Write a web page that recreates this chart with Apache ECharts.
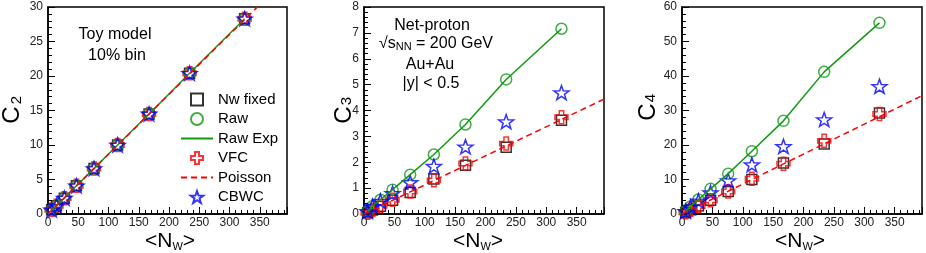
<!DOCTYPE html>
<html><head><meta charset="utf-8">
<script src="https://cdn.jsdelivr.net/npm/echarts@6/dist/echarts.min.js"></script>
<style>html,body{margin:0;padding:0;background:#fff}#c{width:926px;height:253px}</style>
</head><body><div id="c"></div>
<script>
// ---- data ----
const nw = [6, 14, 27, 47, 76, 115, 167, 234, 325];

// C2 (toy model)
const c2NwFixed = [0.6, 1.2, 2.3, 4.1, 6.6, 10.0, 14.5, 20.4, 28.3];
const c2Raw     = [0.6, 1.2, 2.3, 4.1, 6.6, 10.0, 14.5, 20.4, 28.3];
const c2RawExp  = [0.6, 1.2, 2.3, 4.1, 6.6, 10.0, 14.5, 20.4, 28.3];
const c2VFC     = [0.6, 1.2, 2.3, 4.1, 6.6, 10.0, 14.5, 20.4, 28.3];
const c2CBWC    = [0.6, 1.2, 2.3, 4.1, 6.6, 10.0, 14.5, 20.4, 28.3];
const c2Poisson = [[0, 0], [346, 30]];

// C3
const c3NwFixed = [0.05, 0.15, 0.3, 0.53, 0.83, 1.35, 1.88, 2.58, 3.62];
const c3Raw     = [0.1, 0.3, 0.55, 0.94, 1.52, 2.3, 3.46, 5.2, 7.16];
const c3RawExp  = [0.1, 0.3, 0.55, 0.94, 1.52, 2.3, 3.46, 5.2, 7.16];
const c3VFC     = [0.05, 0.15, 0.32, 0.55, 0.87, 1.3, 1.95, 2.72, 3.74];
const c3CBWC    = [0.1, 0.3, 0.5, 0.8, 1.22, 1.85, 2.6, 3.57, 4.69];
const c3Poisson = [[0, 0], [395, 4.44]];

// C4
const c4NwFixed = [0.4, 1.2, 2.3, 4.0, 6.5, 10.0, 14.8, 20.3, 29.3];
const c4Raw     = [0.8, 2.2, 4.2, 7.3, 11.7, 18.2, 27.0, 41.2, 55.4];
const c4RawExp  = [0.8, 2.2, 4.2, 7.3, 11.7, 18.2, 27.0, 41.2, 55.4];
const c4VFC     = [0.5, 1.2, 2.3, 4.0, 6.5, 10.2, 14.6, 21.2, 29.0];
const c4CBWC    = [0.8, 2.0, 3.8, 6.2, 9.7, 14.3, 19.6, 27.4, 37.0];
const c4Poisson = [[0, 0], [395, 34.3]];

const xTicks = {min: 0, max: 395, interval: 50};
const yTicks = [{min: 0, max: 30, interval: 5}, {min: 0, max: 8, interval: 1}, {min: 0, max: 60, interval: 10}];
const yTitles = ['2', '3', '4'];
const legendNames = ['Nw fixed', 'Raw', 'Raw Exp', 'VFC', 'Poisson', 'CBWC'];

// ---- styling ----
const FONT = 'Liberation Sans';
const GREEN = '#119911', RED = '#ff0000', BLUE = '#0000ff';
const CLEAR = 'rgba(0,0,0,0)';
const SQUARE = 'path://M0,0H10V10H0Z';
const CROSS = 'path://M3.3,0H6.7V3.3H10V6.7H6.7V10H3.3V6.7H0V3.3H3.3Z';
const STAR = 'path://M10,0L12.35,6.76L19.51,6.91L13.8,11.24L15.88,18.09L10,14L4.12,18.09L6.2,11.24L0.49,6.91L7.65,6.76Z';

const grids = [
  {left: 48, top: 7, width: 239, height: 207},
  {left: 364, top: 7, width: 240, height: 207},
  {left: 682, top: 7, width: 240, height: 207}
].map(g => Object.assign(g, {show: true, borderColor: '#000', borderWidth: 1.5, backgroundColor: 'transparent'}));

function axisCommon() {
  return {
    type: 'value',
    axisLine: {show: true, onZero: false, lineStyle: {color: '#000', width: 1.5}},
    axisTick: {show: true, inside: true, length: 7, lineStyle: {color: '#000', width: 1}},
    minorTick: {show: true, splitNumber: 5, length: 4, lineStyle: {color: '#000', width: 1}},
    splitLine: {show: false}
  };
}
const xAxes = [0, 1, 2].map(i => Object.assign(axisCommon(), {
  gridIndex: i, min: xTicks.min, max: xTicks.max, interval: xTicks.interval,
  axisLabel: {color: '#222', fontSize: 12, fontFamily: FONT, margin: 3, showMaxLabel: false}
}));
const yAxes = [0, 1, 2].map(i => Object.assign(axisCommon(), {
  gridIndex: i, min: yTicks[i].min, max: yTicks[i].max, interval: yTicks[i].interval,
  axisLabel: {color: '#222', fontSize: 12, fontFamily: FONT, margin: 5}
}));

const pair = ys => ys.map((y, k) => [nw[k], y]);
const panels = [
  {f: c2NwFixed, r: c2Raw, re: c2RawExp, v: c2VFC, c: c2CBWC, p: c2Poisson},
  {f: c3NwFixed, r: c3Raw, re: c3RawExp, v: c3VFC, c: c3CBWC, p: c3Poisson},
  {f: c4NwFixed, r: c4Raw, re: c4RawExp, v: c4VFC, c: c4CBWC, p: c4Poisson}
];
const series = [];
panels.forEach((P, i) => {
  const ax = {xAxisIndex: i, yAxisIndex: i};
  series.push(Object.assign({name: legendNames[0], type: 'scatter', data: pair(P.f), symbol: SQUARE, symbolSize: 10,
    itemStyle: {color: CLEAR, borderColor: '#000', borderWidth: 1.5}}, ax));
  series.push(Object.assign({name: legendNames[3], type: 'scatter', data: pair(P.v), symbol: CROSS, symbolSize: 13,
    itemStyle: {color: CLEAR, borderColor: RED, borderWidth: 1.5}}, ax));
  series.push(Object.assign({name: legendNames[1], type: 'scatter', data: pair(P.r), symbol: 'circle', symbolSize: 11,
    itemStyle: {color: CLEAR, borderColor: GREEN, borderWidth: 1.5}}, ax));
  series.push(Object.assign({name: legendNames[2], type: 'line', data: pair(P.re), symbol: 'none',
    lineStyle: {color: GREEN, width: 1.5}, itemStyle: {color: CLEAR, borderColor: CLEAR, borderWidth: 0}}, ax));
  series.push(Object.assign({name: legendNames[4], type: 'line', data: P.p, symbol: 'none',
    lineStyle: {color: RED, width: 1.5, type: [6, 4]}, itemStyle: {color: CLEAR, borderColor: CLEAR, borderWidth: 0}}, ax));
  series.push(Object.assign({name: legendNames[5], type: 'scatter', data: pair(P.c), symbol: STAR, symbolSize: [15, 14],
    itemStyle: {color: CLEAR, borderColor: BLUE, borderWidth: 1.5}}, ax));
});

const graphic = [];
// y titles (rotated C with subscript)
const yTitlePos = [{cx: 12, cy: 115, sx: 17, sy: 100}, {cx: 344, cy: 115, sx: 347, sy: 101}, {cx: 648, cy: 112, sx: 651, sy: 98}];
yTitlePos.forEach((p, i) => {
  graphic.push({type: 'text', x: p.cx, y: p.cy, rotation: Math.PI / 2,
    style: {text: 'C', font: '24px ' + FONT, fill: '#000', align: 'center', verticalAlign: 'middle'}});
  graphic.push({type: 'text', x: p.sx, y: p.sy, rotation: Math.PI / 2,
    style: {text: yTitles[i], font: '15px ' + FONT, fill: '#000', align: 'center', verticalAlign: 'middle'}});
});
// x titles
[170, 478, 800].forEach(cx => {
  graphic.push({type: 'text', x: cx, y: 252,
    style: {text: '{a|<N}{b|W}{a|>}', align: 'center', verticalAlign: 'bottom',
      rich: {a: {fontSize: 21, fontFamily: FONT, fill: '#000', verticalAlign: 'bottom'},
             b: {fontSize: 11, fontFamily: FONT, fill: '#000', verticalAlign: 'bottom'}}}});
});
// annotations
const notes = [
  {t: 'Toy model', x: 115, y: 35}, {t: '10% bin', x: 117, y: 56},
  {t: 'Net-proton', x: 432, y: 26}, {t: 'Au+Au', x: 430, y: 65}, {t: '|y| < 0.5', x: 431, y: 84}
];
notes.forEach(n => graphic.push({type: 'text', x: n.x, y: n.y,
  style: {text: n.t, font: '16px ' + FONT, fill: '#000', align: 'center', verticalAlign: 'middle'}}));
graphic.push({type: 'text', x: 436, y: 52,
  style: {text: '{a|√s}{b|NN}{a| = 200 GeV}', align: 'center', verticalAlign: 'bottom',
    rich: {a: {fontSize: 16, fontFamily: FONT, fill: '#000', verticalAlign: 'bottom'},
           b: {fontSize: 11, fontFamily: FONT, fill: '#000', verticalAlign: 'bottom'}}}});

const chart = echarts.init(document.getElementById('c'), null, {renderer: 'canvas'});
chart.setOption({
  animation: false,
  grid: grids,
  xAxis: xAxes,
  yAxis: yAxes,
  legend: {left: 175, top: 87, orient: 'vertical', itemWidth: 32, itemHeight: 12, itemGap: 4.5,
    symbolKeepAspect: true, selectedMode: false,
    textStyle: {fontSize: 15, color: '#000', fontFamily: FONT},
    data: legendNames.map(n => (n === 'Raw Exp' || n === 'Poisson')
      ? {name: n, itemStyle: {color: CLEAR, borderColor: CLEAR, borderWidth: 0}} : {name: n})},
  series: series,
  graphic: graphic
});
</script></body></html>
